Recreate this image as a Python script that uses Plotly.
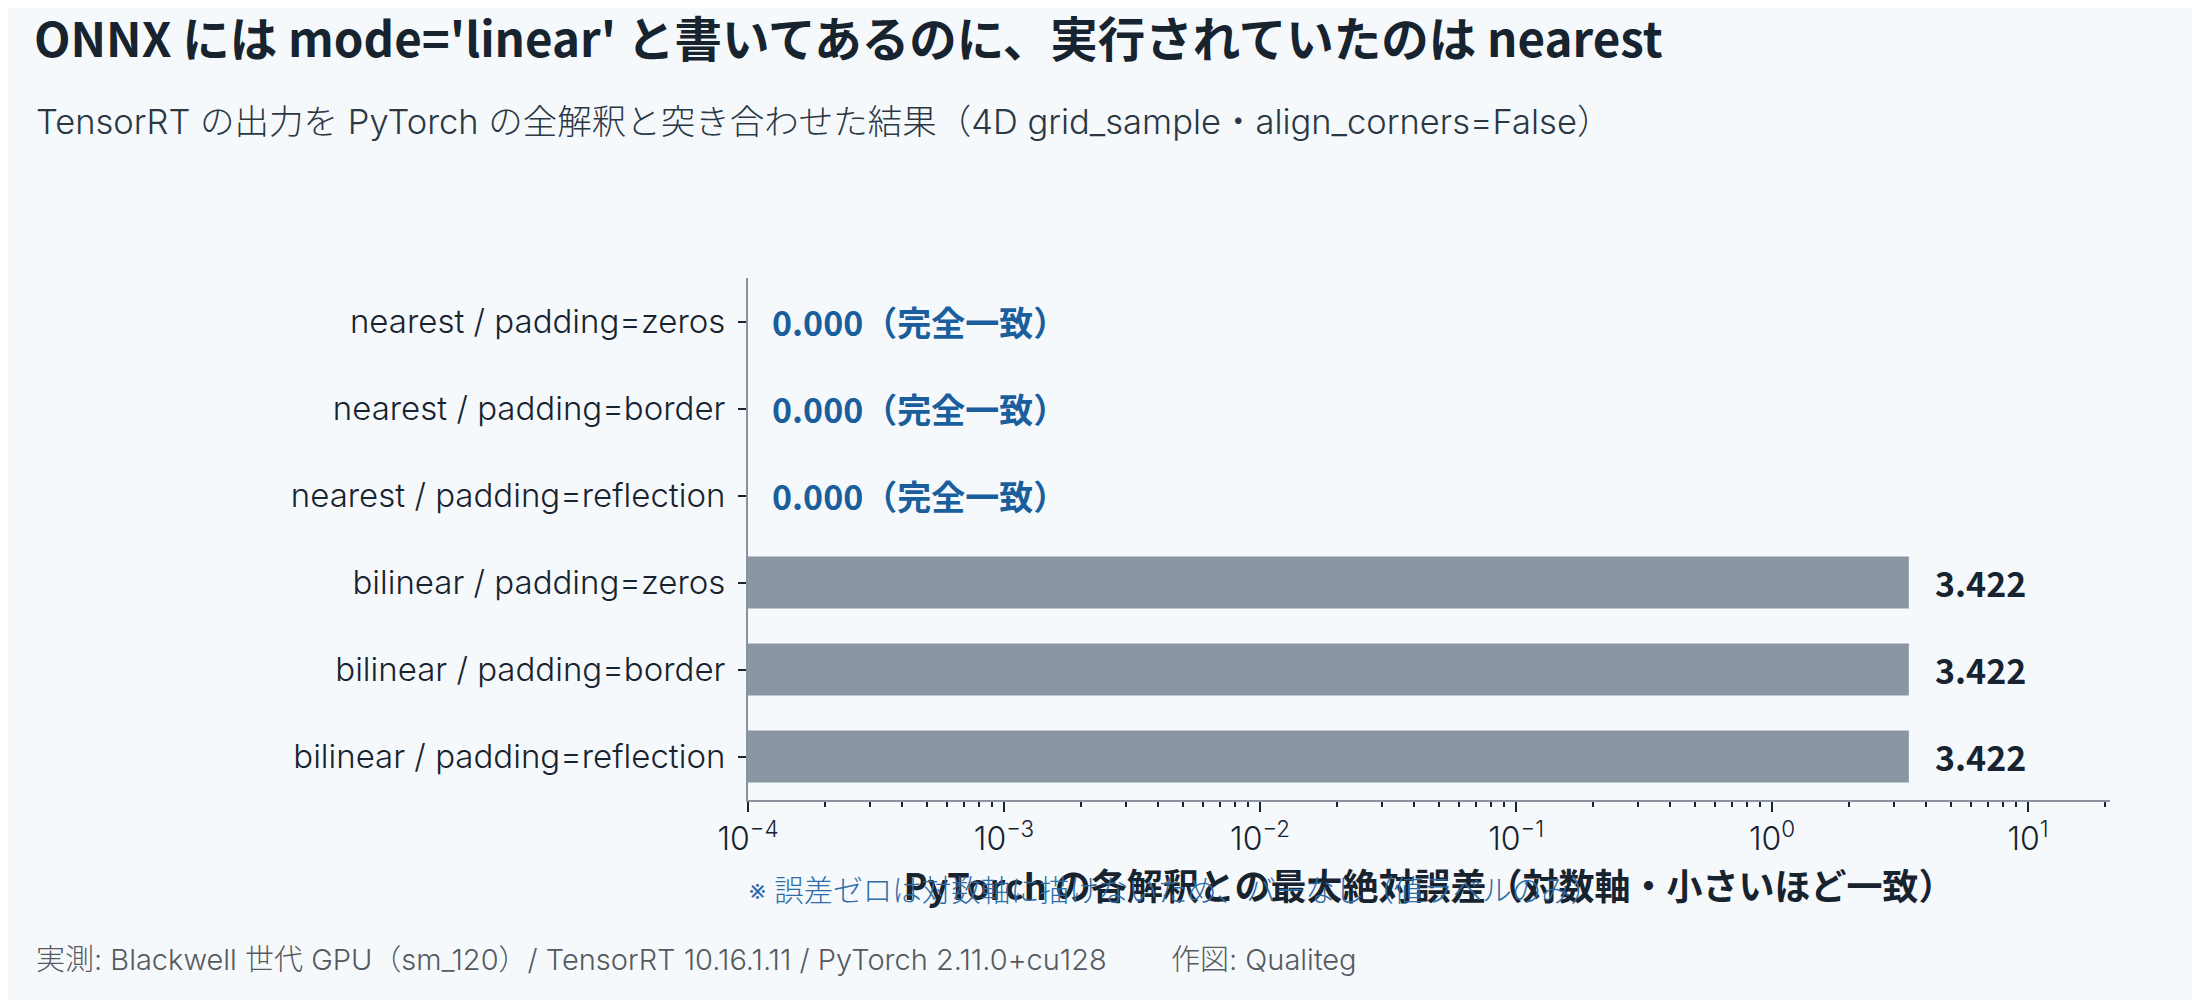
import math

import plotly.graph_objects as go

# max absolute error of TensorRT output vs. each PyTorch interpretation
categories = [
    "nearest / padding=zeros",
    "nearest / padding=border",
    "nearest / padding=reflection",
    "bilinear / padding=zeros",
    "bilinear / padding=border",
    "bilinear / padding=reflection",
]
max_abs_err = [0.0, 0.0, 0.0, 3.422, 3.422, 3.422]
x_tick_exps = [-4, -3, -2, -1, 0, 1]

FONT = "Noto Sans CJK JP"
LIGHT = "Inter, Noto Sans CJK JP"
BG = "#f5f9fc"
INK = "#17232e"
BAR = "#8a96a3"
BLUE = "#1a5e9c"

bar_x = [v if v > 0 else None for v in max_abs_err]

fig = go.Figure()
fig.add_trace(
    go.Bar(
        x=bar_x,
        y=categories,
        orientation="h",
        marker={"color": BAR, "line": {"width": 0}},
        hoverinfo="x+y",
    )
)

# value labels; zero errors cannot sit on a log axis, so they are pinned to the left edge
for cat, v in zip(categories, max_abs_err):
    if v > 0:
        fig.add_annotation(
            x=math.log10(v), y=cat, text=f"{v:.3f}", showarrow=False,
            xanchor="left", xshift=24,
            font={"family": FONT, "size": 34, "color": INK, "weight": "bold"},
        )
    else:
        fig.add_annotation(
            x=x_tick_exps[0], y=cat, text=f"{v:.3f}（完全一致）", showarrow=False,
            xanchor="left", xshift=22,
            font={"family": FONT, "size": 34, "color": BLUE, "weight": "bold"},
        )

fig.add_annotation(
    xref="paper", yref="paper", x=-0.524, y=1.299,
    text="TensorRT の出力を PyTorch の全解釈と突き合わせた結果（4D grid_sample・align_corners=False）",
    showarrow=False, xanchor="left", yanchor="middle",
    font={"family": LIGHT, "size": 34.5, "color": "#2b3742", "weight": 300},
)
fig.add_annotation(
    xref="paper", yref="paper", x=0.3128, y=-0.172,
    text="※ 誤差ゼロは対数軸に描けないため、バーなし（値ラベルのみ）",
    showarrow=False, xanchor="center", yanchor="middle",
    font={"family": LIGHT, "size": 29.5, "color": "#2e6ca8", "weight": 300},
)
fig.add_annotation(
    xref="paper", yref="paper", x=-0.524, y=-0.3065,
    text="実測: Blackwell 世代 GPU（sm_120）/ TensorRT 10.16.1.11 / PyTorch 2.11.0+cu128",
    showarrow=False, xanchor="left", yanchor="middle",
    font={"family": LIGHT, "size": 29, "color": "#555a60", "weight": 300},
)
fig.add_annotation(
    xref="paper", yref="paper", x=0.309, y=-0.3065,
    text="作図: Qualiteg",
    showarrow=False, xanchor="left", yanchor="middle",
    font={"family": LIGHT, "size": 29, "color": "#555a60", "weight": 300},
)

fig.update_layout(
    width=2200,
    height=1000,
    paper_bgcolor=BG,
    plot_bgcolor=BG,
    showlegend=False,
    bargap=0.4,
    margin={"l": 740, "r": 98, "t": 270, "b": 208},
    font={"family": FONT, "color": INK},
    title={
        "text": "ONNX には mode='linear' と書いてあるのに、実行されていたのは nearest",
        "x": 0.0118, "xref": "container", "xanchor": "left",
        "y": 0.968, "yref": "container", "yanchor": "middle",
        "font": {"family": FONT, "size": 47.5, "color": INK, "weight": "bold"},
    },
    xaxis={
        "type": "log",
        "range": [-4, 1.32],
        "tickvals": [10 ** e for e in x_tick_exps],
        "ticktext": [f"10<sup>{str(e).replace('-', '−')}</sup>" for e in x_tick_exps],
        "showgrid": False,
        "zeroline": False,
        "showline": True,
        "linecolor": "#8a939e",
        "linewidth": 2,
        "ticks": "outside",
        "ticklen": 10,
        "tickwidth": 2,
        "tickcolor": INK,
        "tickfont": {"family": LIGHT, "size": 32, "color": INK, "weight": 300},
        "minor": {
            "ticks": "outside", "ticklen": 5, "tickwidth": 2, "tickcolor": INK,
            "dtick": "D1", "showgrid": False,
        },
        "title": {
            "text": "PyTorch の各解釈との最大絶対誤差（対数軸・小さいほど一致）",
            "standoff": 14,
            "font": {"family": FONT, "size": 36, "color": INK, "weight": "bold"},
        },
    },
    yaxis={
        "autorange": "reversed",
        "showgrid": False,
        "zeroline": False,
        "showline": True,
        "linecolor": "#8a939e",
        "linewidth": 2,
        "ticks": "outside",
        "ticklen": 8,
        "tickwidth": 2,
        "tickcolor": INK,
        "ticklabelstandoff": 6,
        "tickfont": {"family": LIGHT, "size": 33, "color": INK, "weight": 300},
    },
)

fig.write_html("out.html")
